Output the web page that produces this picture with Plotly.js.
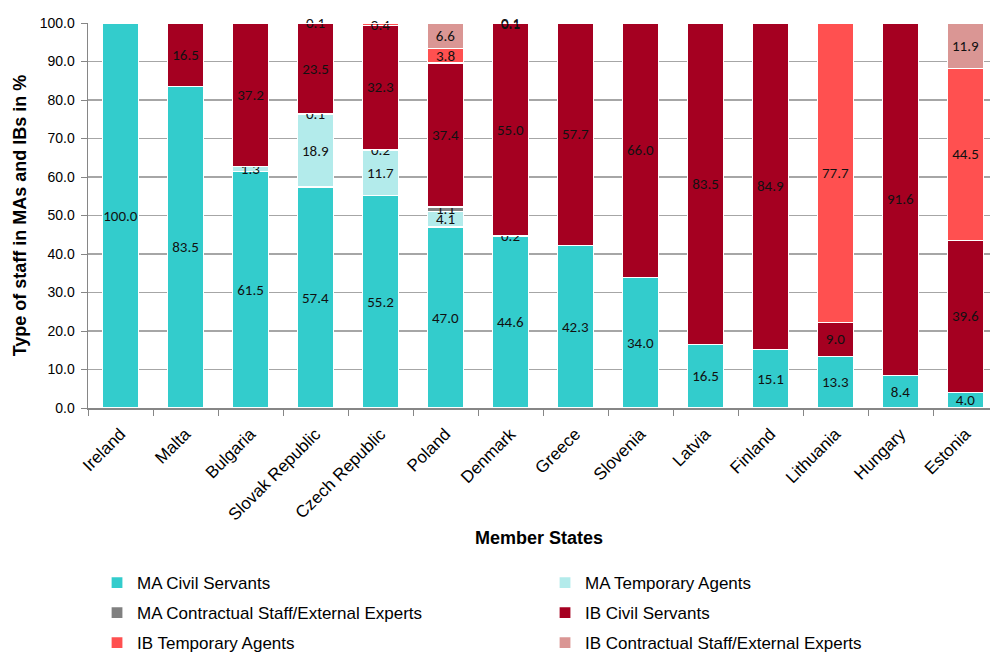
<!DOCTYPE html>
<html>
<head>
<meta charset="utf-8">
<script src="https://cdn.plot.ly/plotly-3.0.1.min.js"></script>
<style>html,body{margin:0;padding:0;background:#fff;}#chart{width:990px;height:652px;}</style>
</head>
<body>
<div id="chart"></div>
<script>
const countries = ["Ireland","Malta","Bulgaria","Slovak Republic","Czech Republic","Poland","Denmark","Greece","Slovenia","Latvia","Finland","Lithuania","Hungary","Estonia"];
const maCivilServants   = [100.0, 83.5, 61.5, 57.4, 55.2, 47.0, 44.6, 42.3, 34.0, 16.5, 15.1, 13.3, 8.4, 4.0];
const maTemporaryAgents = [0, 0, 1.3, 18.9, 11.7, 4.1, 0.2, 0, 0, 0, 0, 0, 0, 0];
const maContractual     = [0, 0, 0, 0.1, 0.2, 1.1, 0, 0, 0, 0, 0, 0, 0, 0];
const ibCivilServants   = [0, 16.5, 37.2, 23.5, 32.3, 37.4, 55.0, 57.7, 66.0, 83.5, 84.9, 9.0, 91.6, 39.6];
const ibTemporaryAgents = [0, 0, 0, 0.1, 0.4, 3.8, 0.1, 0, 0, 0, 0, 77.7, 0, 44.5];
const ibContractual     = [0, 0, 0, 0, 0.2, 6.6, 0.1, 0, 0, 0, 0, 0, 0, 11.9];
const seriesNames = ["MA Civil Servants","MA Temporary Agents","MA Contractual Staff/External Experts","IB Civil Servants","IB Temporary Agents","IB Contractual Staff/External Experts"];
const seriesValues = [maCivilServants, maTemporaryAgents, maContractual, ibCivilServants, ibTemporaryAgents, ibContractual];
const colors = ["#33CCCC","#B3EBEB","#808080","#A50021","#FF5050","#DA9694"];
const legendIds = ["legend","legend","legend2","legend2","legend3","legend3"];

const traces = seriesValues.map((vals, i) => ({
  type: "bar",
  name: seriesNames[i],
  x: countries,
  y: vals,
  text: vals.map(v => v > 0 ? v.toFixed(1) : ""),
  textposition: "inside",
  insidetextanchor: "middle",
  constraintext: "none",
  cliponaxis: false,
  textangle: 0,
  textfont: {family: "Carlito, 'Noto Sans', sans-serif", size: 15, color: "#111"},
  marker: {color: colors[i], line: {color: "#ffffff", width: 1.2}},
  legend: legendIds[i],
  hoverinfo: "none"
}));

const fontFam = "'Liberation Sans', Arial, sans-serif";
const legendBase = {
  orientation: "h", xref: "container", yref: "container",
  xanchor: "left", yanchor: "middle", x: 0.098,
  font: {family: fontFam, size: 17, color: "#000"},
  entrywidth: 403, itemwidth: 30, bgcolor: "rgba(0,0,0,0)", traceorder: "normal"
};

const layout = {
  width: 990, height: 652,
  margin: {l: 88, r: 0, t: 23, b: 244},
  paper_bgcolor: "#fff", plot_bgcolor: "#fff",
  barmode: "stack",
  bargap: 0.446,
  showlegend: true,
  xaxis: {
    type: "category",
    range: [-0.5, 13.377],
    tickangle: -45,
    tickfont: {family: fontFam, size: 17, color: "#000"},
    ticklabelstandoff: 8,
    showline: true, linecolor: "#868686", linewidth: 1.5,
    ticks: "outside", tickson: "boundaries", ticklen: 6, tickcolor: "#868686",
    showgrid: false,
    title: {text: "Member States", font: {family: fontFam, size: 18, color: "#000", weight: "bold"}, standoff: 8},
    automargin: false
  },
  yaxis: {
    range: [0, 100], dtick: 10, tickformat: ".1f",
    tickfont: {family: fontFam, size: 14, color: "#000"},
    ticklabelstandoff: 3,
    showline: true, linecolor: "#868686", linewidth: 1.5,
    ticks: "outside", ticklen: 6, tickcolor: "#868686",
    gridcolor: "#A6A6A6", gridwidth: 1.2,
    zeroline: false,
    title: {text: "Type of staff in MAs and IBs in %", font: {family: fontFam, size: 18, color: "#000", weight: "bold"}, standoff: 8},
    automargin: false
  },
  legend: Object.assign({}, legendBase, {y: 0.1058}),
  legend2: Object.assign({}, legendBase, {y: 0.0598}),
  legend3: Object.assign({}, legendBase, {y: 0.0138})
};

Plotly.newPlot("chart", traces, layout, {displayModeBar: false, staticPlot: true});
</script>
</body>
</html>
